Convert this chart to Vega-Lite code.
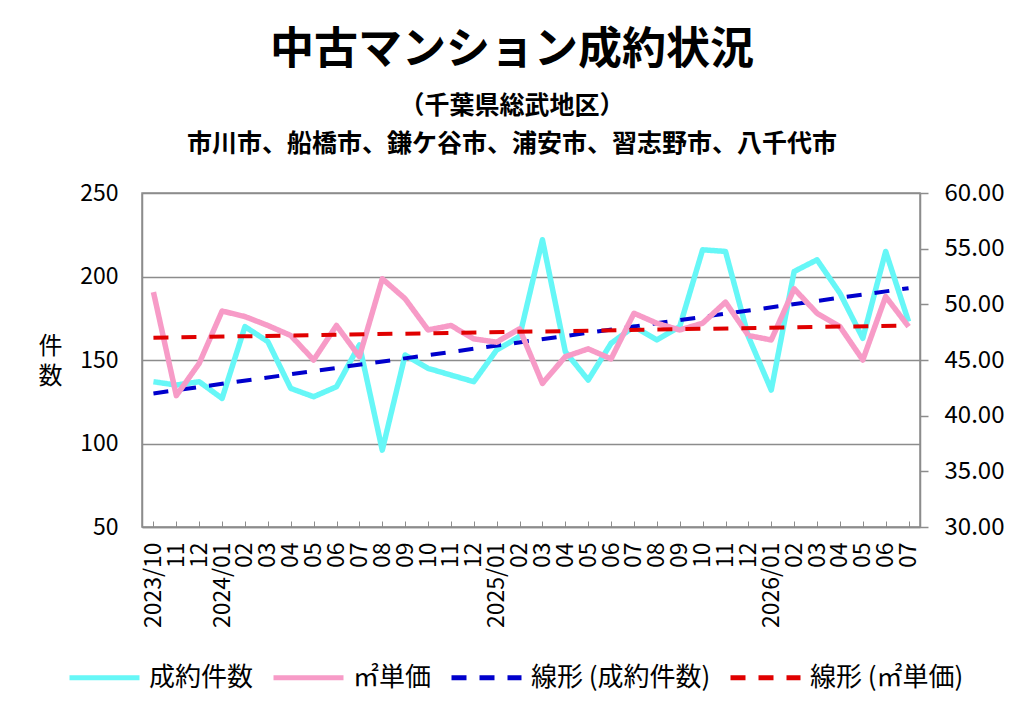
{
  "$schema": "https://vega.github.io/schema/vega-lite/v6.json",
  "width": 778,
  "height": 334,
  "autosize": "none",
  "padding": {"left": 142, "top": 193, "right": 104, "bottom": 192},
  "background": "white",
  "title": {
    "text": "中古マンション成約状況",
    "subtitle": ["（千葉県総武地区）", "市川市、船橋市、鎌ケ谷市、浦安市、習志野市、八千代市"],
    "anchor": "middle",
    "dx": -19,
    "offset": 24,
    "font": "Noto Sans CJK JP",
    "fontSize": 44,
    "fontWeight": "bold",
    "color": "black",
    "subtitleFont": "Noto Sans CJK JP",
    "subtitleFontSize": 25,
    "subtitleFontWeight": "bold",
    "subtitleColor": "black",
    "subtitlePadding": 21,
    "subtitleLineHeight": 38
  },
  "datasets": {
    "monthly": [
      {"month": "2023/10", "count": 137, "price": 51.1},
      {"month": "2023/11", "count": 135, "price": 41.8},
      {"month": "2023/12", "count": 137, "price": 44.7},
      {"month": "2024/01", "count": 127, "price": 49.4},
      {"month": "2024/02", "count": 170, "price": 48.9},
      {"month": "2024/03", "count": 161, "price": 48.1},
      {"month": "2024/04", "count": 133, "price": 47.2},
      {"month": "2024/05", "count": 128, "price": 45.0},
      {"month": "2024/06", "count": 134, "price": 48.1},
      {"month": "2024/07", "count": 159, "price": 45.3},
      {"month": "2024/08", "count": 96, "price": 52.3},
      {"month": "2024/09", "count": 153, "price": 50.5},
      {"month": "2024/10", "count": 145, "price": 47.7},
      {"month": "2024/11", "count": 141, "price": 48.1},
      {"month": "2024/12", "count": 137, "price": 46.9},
      {"month": "2025/01", "count": 156, "price": 46.6},
      {"month": "2025/02", "count": 164, "price": 47.8},
      {"month": "2025/03", "count": 222, "price": 42.9},
      {"month": "2025/04", "count": 155, "price": 45.3},
      {"month": "2025/05", "count": 138, "price": 46.0},
      {"month": "2025/06", "count": 160, "price": 45.1},
      {"month": "2025/07", "count": 170, "price": 49.2},
      {"month": "2025/08", "count": 162, "price": 48.3},
      {"month": "2025/09", "count": 170, "price": 47.7},
      {"month": "2025/10", "count": 216, "price": 48.3},
      {"month": "2025/11", "count": 215, "price": 50.2},
      {"month": "2025/12", "count": 164, "price": 47.2},
      {"month": "2026/01", "count": 132, "price": 46.8},
      {"month": "2026/02", "count": 203, "price": 51.4},
      {"month": "2026/03", "count": 210, "price": 49.2},
      {"month": "2026/04", "count": 190, "price": 48.0},
      {"month": "2026/05", "count": 163, "price": 45.0},
      {"month": "2026/06", "count": 215, "price": 50.7},
      {"month": "2026/07", "count": 173, "price": 48.0}
    ],
    "trend": [
      {"month": "2023/10", "count": 130, "price": 47.0},
      {"month": "2026/07", "count": 193, "price": 48.1}
    ]
  },
  "encoding": {
    "x": {
      "field": "month",
      "type": "ordinal",
      "scale": {"type": "point", "padding": 0.5},
      "axis": {
        "title": null,
        "labelAngle": -90,
        "labelFontSize": 23,
        "labelColor": "black",
        "labelPadding": 21,
        "tickSize": -6,
        "tickColor": "#8c8c8c",
        "domainColor": "#8c8c8c",
        "domainWidth": 1.5,
        "grid": false,
        "labelExpr": "slice(datum.label, 5) == '01' || datum.label == '2023/10' ? datum.label : slice(datum.label, 5)"
      }
    }
  },
  "layer": [
    {
      "encoding": {
        "y": {
          "field": "count",
          "type": "quantitative",
          "scale": {"domain": [50, 250], "nice": false, "zero": false},
          "axis": {
            "orient": "left",
            "title": ["件", "数"],
            "titleAngle": 0,
            "titleFontSize": 24,
            "titleFontWeight": "normal",
            "titleColor": "black",
            "titleLineHeight": 30,
            "titleX": -92,
            "titleY": 153,
            "titleAlign": "center",
            "titleBaseline": "middle",
            "values": [50, 100, 150, 200, 250],
            "labelFontSize": 23,
            "labelColor": "black",
            "labelPadding": 24,
            "ticks": false,
            "domainColor": "#8c8c8c",
            "domainWidth": 1.5,
            "grid": true,
            "gridColor": "#8c8c8c",
            "gridWidth": 1.5
          }
        }
      },
      "layer": [
        {
          "data": {"name": "monthly"},
          "mark": {"type": "line", "strokeWidth": 5.5, "strokeJoin": "round"},
          "encoding": {
            "color": {
              "datum": "成約件数",
              "type": "nominal",
              "scale": {
                "domain": ["成約件数", "㎡単価", "線形 (成約件数)", "線形 (㎡単価)"],
                "range": ["#66F7F7", "#F79BC7", "#0000CC", "#E00000"]
              }
            },
            "strokeDash": {
              "datum": "成約件数",
              "type": "nominal",
              "scale": {
                "domain": ["成約件数", "㎡単価", "線形 (成約件数)", "線形 (㎡単価)"],
                "range": [[1, 0], [1, 0], [15, 13], [15, 13]]
              }
            }
          }
        },
        {
          "data": {"name": "trend"},
          "mark": {"type": "line", "strokeWidth": 4},
          "encoding": {
            "color": {"datum": "線形 (成約件数)", "type": "nominal"},
            "strokeDash": {"datum": "線形 (成約件数)", "type": "nominal"}
          }
        }
      ]
    },
    {
      "encoding": {
        "y": {
          "field": "price",
          "type": "quantitative",
          "scale": {"domain": [30, 60], "nice": false, "zero": false},
          "axis": {
            "orient": "right",
            "title": null,
            "values": [30, 35, 40, 45, 50, 55, 60],
            "format": ".2f",
            "labelFontSize": 24,
            "labelColor": "black",
            "labelPadding": 16,
            "tickSize": 8,
            "tickColor": "#8c8c8c",
            "tickWidth": 1.5,
            "domainColor": "#8c8c8c",
            "domainWidth": 1.5,
            "grid": false
          }
        }
      },
      "layer": [
        {
          "data": {"name": "monthly"},
          "mark": {"type": "line", "strokeWidth": 5.5, "strokeJoin": "round"},
          "encoding": {
            "color": {"datum": "㎡単価", "type": "nominal"},
            "strokeDash": {"datum": "㎡単価", "type": "nominal"}
          }
        },
        {
          "data": {"name": "trend"},
          "mark": {"type": "line", "strokeWidth": 4},
          "encoding": {
            "color": {"datum": "線形 (㎡単価)", "type": "nominal"},
            "strokeDash": {"datum": "線形 (㎡単価)", "type": "nominal"}
          }
        }
      ]
    }
  ],
  "resolve": {"scale": {"y": "independent"}},
  "config": {
    "font": "Noto Sans CJK JP",
    "view": {"stroke": "#8c8c8c", "strokeWidth": 1.5},
    "legend": {
      "orient": "none",
      "legendX": -75,
      "legendY": 447,
      "direction": "horizontal",
      "columns": 4,
      "title": null,
      "symbolType": "stroke",
      "symbolSize": 4900,
      "symbolStrokeWidth": 5,
      "labelFontSize": 26,
      "labelColor": "black",
      "labelOffset": 7,
      "labelLimit": 300,
      "columnPadding": 9
    }
  }
}
